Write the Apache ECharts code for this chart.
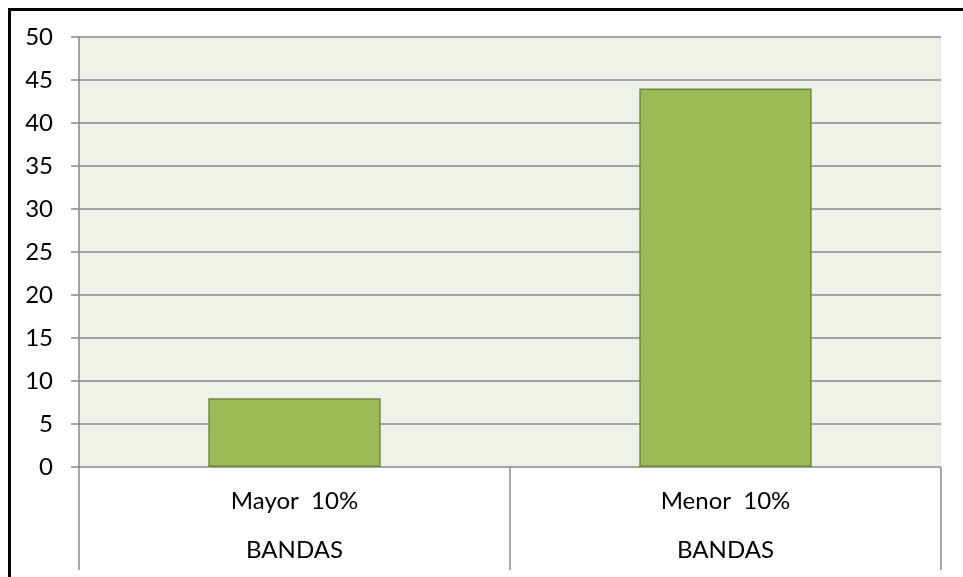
<!DOCTYPE html>
<html>
<head>
<meta charset="utf-8">
<script src="https://cdn.jsdelivr.net/npm/echarts@6/dist/echarts.min.js"></script>
<style>
  html, body { margin: 0; padding: 0; background: #ffffff; }
  #chart { width: 963px; height: 577px; }
</style>
</head>
<body>
<div id="chart"></div>
<script>
// Categories (two-level: band name / group)
var categories = ['Mayor  10%', 'Menor  10%'];
var groupLabel = 'BANDAS';
// Counts per band
var values = [8, 44];
// Y axis range
var yMin = 0, yMax = 50, yStep = 5;

var chart = echarts.init(document.getElementById('chart'));
var gridColor = '#8a8a8a';
var font = 'Lato, "Open Sans", sans-serif';

chart.setOption({
  backgroundColor: '#ffffff',
  animation: false,
  grid: { left: 79, right: 22, top: 37, bottom: 110, show: true, backgroundColor: '#eef1e8', borderWidth: 0 },
  xAxis: {
    type: 'category',
    data: categories,
    boundaryGap: true,
    axisLine: { show: false },
    axisTick: { show: true, length: 103, lineStyle: { color: gridColor, width: 1.5 } },
    axisLabel: {
      margin: 10,
      fontFamily: font,
      fontSize: 24,
      color: '#000000',
      lineHeight: 49,
      formatter: function (v) { return v + '\n' + groupLabel; }
    }
  },
  yAxis: {
    type: 'value',
    min: yMin, max: yMax, interval: yStep,
    axisLine: { show: true, lineStyle: { color: gridColor, width: 1.5 } },
    axisTick: { show: true, length: 8, lineStyle: { color: gridColor, width: 1.5 } },
    splitLine: { show: true, lineStyle: { color: gridColor, width: 1.5 } },
    axisLabel: { margin: 26, fontFamily: font, fontSize: 24, color: '#000000' }
  },
  series: [{
    type: 'bar',
    data: values,
    barWidth: '40%',
    itemStyle: { color: '#9bbb59', borderColor: '#71893f', borderWidth: 1.5 }
  }],
  graphic: [
    { type: 'rect', shape: { x: 8, y: 8, width: 955, height: 3 }, style: { fill: '#000000' } },
    { type: 'rect', shape: { x: 8, y: 8, width: 3, height: 569 }, style: { fill: '#000000' } }
  ]
});
</script>
</body>
</html>
